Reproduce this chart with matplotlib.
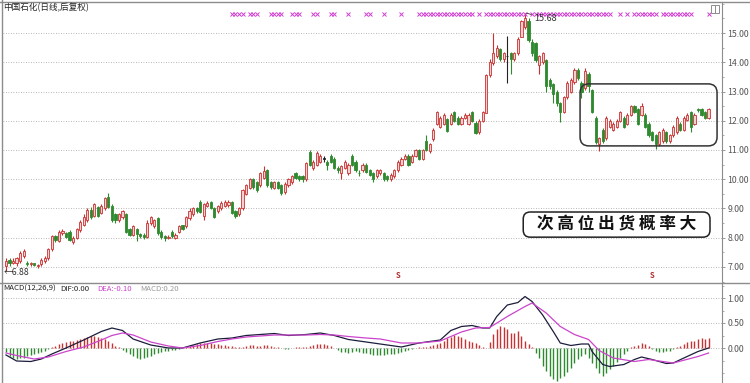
import matplotlib
matplotlib.use("Agg")
import matplotlib.pyplot as plt
from matplotlib.patches import FancyBboxPatch, Rectangle
from matplotlib.lines import Line2D
from matplotlib.ticker import MultipleLocator
import matplotlib.transforms as mtransforms

plt.rcParams['font.family'] = ['Noto Sans CJK SC', 'DejaVu Sans']

# daily candles
opens = [7.05, 7.25, 7.15, 7.12, 7.2, 7.38, 7.15, 7.1, 7.12, 7.02,
         7.1, 7.2, 7.3, 7.6, 8.05, 7.9, 8.15, 8.15, 8.2, 7.85,
         8.0, 8.25, 8.45, 8.6, 8.95, 8.75, 9.05, 8.85, 9.0, 9.4,
         9.1, 8.8, 8.6, 8.7, 8.8, 8.3, 8.1, 8.3, 8.12, 8.1,
         8.03, 8.5, 8.4, 8.67, 8.2, 8.05, 8.0, 8.2, 8.0, 8.2,
         8.42, 8.4, 8.67, 8.8, 9.0, 9.22, 8.75, 9.1, 9.22, 9.02,
         8.9, 9.0, 9.1, 9.12, 9.22, 8.9, 8.8, 9.0, 9.5, 9.7,
         10.0, 9.9, 9.8, 10.05, 10.3, 9.9, 9.7, 9.9, 9.8, 9.55,
         9.8, 9.9, 10.2, 10.1, 10.1, 10.0, 10.93, 10.4, 10.5, 10.6,
         10.7, 10.6, 10.8, 10.7, 10.4, 10.2, 10.4, 10.2, 10.8, 10.6,
         10.22, 10.3, 10.5, 10.3, 10.2, 10.1, 10.2, 10.2, 10.1, 10.0,
         10.1, 10.3, 10.5, 10.7, 10.8, 10.6, 10.8, 11.0, 10.7, 11.3,
         10.95, 11.36, 11.88, 11.8, 11.9, 12.05, 11.9, 12.3, 12.1, 11.9,
         12.1, 11.9, 12.3, 11.94, 11.6, 12.0, 12.28, 13.56, 13.96, 14.2,
         14.45, 14.1, 14.2, 14.3, 14.1, 14.3, 14.88, 15.2, 15.4, 14.7,
         14.65, 13.9, 14.0, 14.07, 13.4, 13.27, 13.0, 12.6, 12.3, 12.8,
         13.0, 13.32, 13.74, 13.3, 13.11, 13.6, 13.05, 12.09, 11.2, 11.7,
         11.4, 11.8, 11.7, 11.8, 12.0, 12.1, 11.9, 12.2, 12.5, 12.4,
         12.2, 12.2, 11.9, 11.6, 11.5, 11.2, 11.3, 11.6, 11.3, 11.5,
         11.6, 11.9, 11.7, 12.03, 12.3, 11.9, 12.4, 12.4, 12.3, 12.1]
closes = [7.2, 7.12, 7.2, 7.3, 7.48, 7.55, 7.1, 7.12, 7.08, 7.06,
          7.25, 7.32, 7.6, 8.05, 7.92, 8.2, 8.22, 8.02, 7.92, 8.0,
          8.3, 8.55, 8.7, 8.95, 8.7, 9.15, 8.75, 9.1, 9.35, 9.05,
          8.6, 8.6, 8.8, 8.9, 8.2, 8.1, 8.4, 8.12, 8.05, 8.02,
          8.5, 8.7, 8.6, 8.16, 8.02, 8.0, 8.02, 8.05, 8.1, 8.4,
          8.3, 8.7, 8.93, 9.0, 8.9, 8.88, 9.15, 9.2, 9.02, 8.72,
          9.08, 9.2, 9.22, 9.22, 8.85, 8.75, 9.0, 9.62, 9.8, 10.0,
          9.72, 9.62, 10.2, 10.28, 9.8, 9.72, 9.9, 9.7, 9.52, 9.85,
          10.0, 10.1, 10.05, 10.0, 10.0, 10.55, 10.5, 10.6, 10.9, 10.8,
          10.7, 10.5, 10.6, 10.4, 10.3, 10.45, 10.6, 10.5, 10.5, 10.3,
          10.2, 10.5, 10.25, 10.15, 10.0, 10.3, 10.3, 10.0, 10.0, 10.15,
          10.3, 10.6, 10.7, 10.8, 10.5, 10.8, 11.0, 10.7, 11.0, 11.0,
          11.2, 11.7, 12.3, 12.1, 12.2, 11.65, 12.2, 12.0, 11.9, 12.1,
          12.2, 12.2, 12.0, 11.59, 12.0, 12.3, 13.55, 14.02, 14.3, 14.5,
          14.1, 14.3, 14.2, 14.1, 14.3, 14.8, 15.4, 15.5, 14.75, 14.3,
          14.07, 14.2, 14.3, 13.2, 13.2, 12.92, 12.6, 12.3, 12.8, 13.3,
          13.4, 13.73, 13.46, 13.0, 13.69, 13.2, 12.31, 11.29, 11.4, 11.3,
          12.09, 12.0, 11.9, 12.0, 12.3, 11.8, 12.2, 12.5, 12.3, 11.9,
          12.5, 11.8, 11.5, 11.35, 11.2, 11.6, 11.7, 11.3, 11.5, 11.8,
          12.1, 11.7, 12.1, 12.2, 11.8, 12.2, 12.38, 12.2, 12.1, 12.4]
highs = [7.3, 7.3, 7.3, 7.35, 7.55, 7.6, 7.2, 7.18, 7.15, 7.1,
         7.3, 7.38, 7.65, 8.1, 8.1, 8.25, 8.3, 8.2, 8.25, 8.05,
         8.35, 8.6, 8.8, 9.0, 9.05, 9.2, 9.1, 9.15, 9.4, 9.53,
         9.15, 8.85, 8.85, 8.95, 8.85, 8.35, 8.45, 8.35, 8.15, 8.15,
         8.6, 8.75, 8.65, 8.7, 8.25, 8.1, 8.1, 8.25, 8.15, 8.45,
         8.45, 8.75, 9.0, 9.05, 9.05, 9.3, 9.2, 9.25, 9.25, 9.05,
         9.12, 9.25, 9.28, 9.28, 9.25, 8.95, 9.05, 9.65, 9.85, 10.05,
         10.05, 9.95, 10.25, 10.45, 10.35, 9.95, 9.95, 9.95, 9.85, 9.9,
         10.05, 10.15, 10.25, 10.15, 10.15, 10.6, 11.0, 10.65, 10.95, 10.85,
         10.8, 10.65, 10.85, 10.75, 10.45, 10.5, 10.65, 10.55, 10.85, 10.65,
         10.3, 10.55, 10.55, 10.35, 10.25, 10.35, 10.35, 10.25, 10.15, 10.2,
         10.35, 10.65, 10.75, 10.85, 10.85, 10.85, 11.05, 11.05, 11.05, 11.5,
         11.25, 11.75, 12.35, 12.15, 12.25, 12.1, 12.25, 12.35, 12.15, 12.15,
         12.25, 12.25, 12.35, 12.0, 12.05, 12.35, 13.6, 14.1, 15.0, 14.6,
         14.5, 14.35, 14.9, 14.35, 14.35, 14.85, 15.46, 15.68, 15.5, 14.8,
         14.7, 14.25, 14.35, 14.1, 13.45, 13.3, 13.05, 12.65, 12.85, 13.35,
         13.45, 13.8, 13.8, 13.35, 13.8, 13.65, 13.1, 12.15, 11.45, 11.75,
         12.15, 12.05, 11.95, 12.05, 12.35, 12.15, 12.25, 12.55, 12.55, 12.45,
         12.6, 12.25, 11.95, 11.65, 11.55, 11.65, 11.75, 11.65, 11.55, 11.85,
         12.15, 11.95, 12.15, 12.25, 12.35, 12.25, 12.45, 12.45, 12.35, 12.45]
lows = [6.88, 7.05, 7.1, 7.05, 7.15, 7.3, 7.05, 7.05, 7.02, 6.98,
        7.05, 7.15, 7.25, 7.55, 7.85, 7.85, 8.1, 7.98, 7.88, 7.8,
        7.95, 8.2, 8.4, 8.55, 8.65, 8.7, 8.7, 8.8, 8.95, 9.0,
        8.55, 8.5, 8.55, 8.65, 8.15, 8.05, 8.05, 7.9, 8.0, 7.95,
        8.0, 8.45, 8.35, 8.1, 7.95, 7.9, 7.95, 8.0, 7.95, 8.15,
        8.25, 8.35, 8.6, 8.75, 8.85, 8.85, 8.6, 9.05, 8.98, 8.68,
        8.85, 8.95, 9.05, 9.05, 8.8, 8.68, 8.75, 8.95, 9.45, 9.65,
        9.65, 9.55, 9.75, 10.0, 9.75, 9.65, 9.65, 9.65, 9.45, 9.5,
        9.75, 9.85, 10.0, 9.95, 9.9, 9.95, 10.45, 10.3, 10.45, 10.55,
        10.6, 10.3, 10.55, 10.35, 10.2, 10.0, 10.35, 10.15, 10.45, 10.25,
        10.1, 10.25, 10.2, 10.1, 9.9, 10.05, 10.15, 9.95, 9.95, 9.95,
        10.05, 10.25, 10.45, 10.65, 10.45, 10.55, 10.75, 10.65, 10.65, 10.95,
        10.9, 11.3, 11.85, 11.75, 11.85, 11.6, 11.85, 11.95, 11.85, 11.85,
        12.05, 11.85, 11.95, 11.55, 11.55, 11.95, 12.25, 13.5, 13.9, 14.15,
        14.05, 14.0, 13.3, 13.6, 14.05, 14.25, 14.85, 15.15, 14.7, 14.2,
        14.0, 13.6, 13.95, 13.0, 13.1, 12.6, 12.5, 11.95, 12.25, 12.75,
        12.95, 13.25, 13.4, 12.77, 13.05, 13.0, 12.25, 11.2, 10.95, 11.25,
        11.35, 11.75, 11.65, 11.75, 11.95, 11.75, 11.85, 12.15, 12.25, 11.85,
        12.15, 11.75, 11.45, 11.3, 11.05, 11.15, 11.25, 11.25, 11.25, 11.45,
        11.55, 11.65, 11.65, 12.0, 11.6, 11.85, 12.3, 12.15, 12.05, 12.05]

# MACD(12,26,9) bars, one per day
macd_bar = [-0.08, -0.15, -0.2, -0.22, -0.2, -0.2, -0.16, -0.14, -0.12, -0.1,
            -0.08, -0.05, -0.02, 0.02, 0.05, 0.08, 0.1, 0.13, 0.14, 0.15,
            0.16, 0.18, 0.2, 0.22, 0.25, 0.24, 0.22, 0.2, 0.18, 0.15,
            0.1, 0.05, 0.02, -0.03, -0.08, -0.12, -0.16, -0.2, -0.22, -0.2,
            -0.18, -0.15, -0.12, -0.1, -0.08, -0.06, -0.05, -0.04, -0.03, -0.02,
            0.0, 0.02, 0.04, 0.06, 0.08, 0.1, 0.1, 0.1, 0.1, 0.08,
            0.08, 0.06, 0.06, 0.05, 0.04, 0.03, 0.02, 0.02, 0.05, 0.06,
            0.06, 0.05, 0.05, 0.06, 0.07, 0.05, 0.03, 0.02, 0.0, -0.02,
            -0.02, 0.0, 0.02, 0.03, 0.02, 0.02, 0.05, 0.07, 0.08, 0.09,
            0.08, 0.06, 0.04, 0.0, -0.04, -0.07, -0.08, -0.09, -0.08, -0.06,
            -0.08, -0.1, -0.1, -0.12, -0.13, -0.13, -0.14, -0.13, -0.12, -0.12,
            -0.11, -0.1, -0.08, -0.05, -0.03, -0.02, 0.0, 0.02, 0.03, 0.03,
            0.05, 0.06, 0.08, 0.1, 0.15, 0.2, 0.23, 0.26, 0.25, 0.22,
            0.18, 0.15, 0.12, 0.1, 0.06, 0.02, 0.0, 0.12, 0.28, 0.38,
            0.45, 0.42, 0.38, 0.3, 0.3, 0.35, 0.25, 0.15, 0.08, 0.02,
            -0.1, -0.2, -0.35, -0.45, -0.55, -0.62, -0.65, -0.6, -0.55, -0.48,
            -0.4, -0.3, -0.22, -0.15, -0.12, -0.2, -0.3, -0.4, -0.5, -0.55,
            -0.5, -0.42, -0.35, -0.28, -0.2, -0.12, -0.05, 0.02, 0.05, 0.07,
            0.1, 0.08, 0.04, -0.02, -0.05, -0.07, -0.08, -0.06, -0.05, -0.02,
            0.02, 0.05, 0.08, 0.12, 0.15, 0.15, 0.18, 0.2, 0.18, 0.2]

# DIF / DEA read at these day indices
dif_day = [0, 3, 7, 10, 13, 17, 22, 27, 30, 33, 36, 41, 46, 50, 55, 60, 64, 68, 72, 76,
           80, 85, 89, 93, 97, 102, 106, 112, 117, 123, 126, 129, 132, 135, 137, 139, 142, 145, 147, 149,
           152, 155, 157, 160, 163, 165, 166, 169, 171, 175, 178, 180, 183, 187, 189, 192, 196, 199]
dif_val = [-0.14, -0.26, -0.27, -0.22, -0.12, 0.0, 0.16, 0.33, 0.4, 0.35, 0.18, 0.06, 0.0, 0.0, 0.1, 0.18, 0.2, 0.25, 0.27, 0.29,
           0.25, 0.27, 0.3, 0.25, 0.17, 0.12, 0.08, 0.02, 0.1, 0.16, 0.35, 0.43, 0.45, 0.4, 0.4, 0.63, 0.86, 0.91, 1.03, 0.93,
           0.66, 0.33, 0.1, 0.05, 0.08, 0.08, -0.07, -0.33, -0.37, -0.33, -0.23, -0.18, -0.23, -0.31, -0.3, -0.2, -0.07, 0.0]
dea_day = [0, 3, 8, 12, 17, 22, 27, 30, 33, 36, 41, 46, 50, 55, 60, 64, 68, 72, 76, 80,
           85, 89, 93, 97, 102, 106, 112, 117, 123, 129, 133, 137, 142, 147, 149, 153, 157, 161, 165, 168,
           172, 178, 182, 187, 189, 196, 199]
dea_val = [-0.1, -0.15, -0.22, -0.18, -0.07, 0.02, 0.16, 0.25, 0.3, 0.26, 0.12, 0.04, 0.0, 0.05, 0.13, 0.18, 0.22, 0.24, 0.26, 0.26,
           0.26, 0.27, 0.26, 0.23, 0.2, 0.18, 0.1, 0.1, 0.14, 0.32, 0.4, 0.41, 0.63, 0.83, 0.9, 0.7, 0.43, 0.27, 0.17, -0.05,
           -0.2, -0.27, -0.23, -0.28, -0.3, -0.17, -0.1]

# signal days (magenta x row) and sell marks
signal_days = ([64, 65, 66, 67, 69, 70, 71, 75, 76, 77, 78, 81, 82, 83, 87, 88, 92, 93, 97,
                102, 103, 107, 112] + list(range(117, 133)) + [134, 136] + list(range(137, 148))
               + list(range(149, 172)) + [174, 176] + list(range(178, 185)) + list(range(186, 195)) + [199])
sell_days = [111, 183]

price_ticks = [7, 8, 9, 10, 11, 12, 13, 14, 15]
macd_ticks = [0.0, 0.5, 1.0]

W, H = 750, 383
RED, RED_FILL, GREEN = '#c83232', '#f3cfcf', '#2f8a2f'


def fx(px):
    return px / W


def fy(py):
    return 1 - py / H


fig = plt.figure(figsize=(7.5, 3.83), dpi=100)
ax = fig.add_axes([fx(3), fy(282), (722 - 3) / W, (282 - 2) / H])
am = fig.add_axes([fx(3), fy(383), (722 - 3) / W, (383 - 283) / H])

days = list(range(len(closes)))
wick_cols, face_cols, edge_cols, heights, bottoms = [], [], [], [], []
for o, c in zip(opens, closes):
    if c > o:
        col, face = RED, RED_FILL
    elif c < o:
        col, face = GREEN, GREEN
    else:
        col, face = '#222222', '#222222'
    wick_cols.append(col)
    edge_cols.append(col)
    face_cols.append(face)
    heights.append(max(abs(c - o), 0.02))
    bottoms.append(min(o, c))

ax.vlines(days, lows, highs, colors=wick_cols, lw=0.8, zorder=2)
ax.bar(days, heights, bottom=bottoms, width=0.62, color=face_cols,
       edgecolor=edge_cols, linewidth=0.6, zorder=3)

ax.set_xlim(-0.85, 202.8)
ax.set_ylim(6.487, 16.06)
am.set_xlim(-0.85, 202.8)
am.set_ylim(-0.70, 1.30)

for a, ticks in ((ax, price_ticks), (am, macd_ticks)):
    a.yaxis.tick_right()
    a.set_yticks(ticks)
    a.set_yticklabels([f"{t:.2f}" for t in ticks])
    a.set_xticks([])
    for s in ('left', 'top', 'bottom'):
        a.spines[s].set_visible(False)
    a.spines['right'].set_color('#8c8c8c')
    a.spines['right'].set_linewidth(0.8)
    a.tick_params(axis='y', which='major', colors='#8c8c8c', labelcolor='#555555',
                  labelsize=6.3, length=2.5, width=0.6, pad=1.5)
    a.tick_params(axis='y', which='minor', colors='#8c8c8c', length=1.5, width=0.5)
    a.grid(axis='y', which='major', ls=(0, (1, 2)), color='#a0a0a0', lw=0.6)
    a.set_axisbelow(True)
ax.yaxis.set_minor_locator(MultipleLocator(0.5))
am.yaxis.set_minor_locator(MultipleLocator(0.25))

# signal row and sell marks
trans = mtransforms.blended_transform_factory(ax.transData, ax.transAxes)
ax.plot(signal_days, [0.957] * len(signal_days), ls='none', marker='x', ms=2.4,
        mew=0.7, color='#d040d0', transform=trans, clip_on=False)
for d in sell_days:
    ax.text(d, 0.025, 'S', transform=trans, ha='center', va='center',
            fontsize=5.5, color='#b03030', fontweight='bold')

# high / low labels
ax.annotate('15.68', xy=(147.4, 15.68), xytext=(149.6, 15.5), fontsize=6.5,
            color='#333333', va='center',
            arrowprops=dict(arrowstyle='-', lw=0.6, color='#333333', shrinkA=0, shrinkB=0))
ax.text(-0.6, 6.81, '←6.88', fontsize=6.3, color='#333333', va='center', ha='left')

# rounded frame around the second high
aspect = 3.53 / 29.25
ax.add_patch(FancyBboxPatch((162.6, 11.14), 38.8, 2.12,
                            boxstyle='round,pad=0,rounding_size=2.5',
                            mutation_aspect=aspect, fill=False,
                            ec='#333333', lw=1.1, zorder=4))
ax.add_patch(FancyBboxPatch((146.5, 8.02), 52.9, 0.86,
                            boxstyle='round,pad=0,rounding_size=2.0',
                            mutation_aspect=aspect, fc='white',
                            ec='#222222', lw=1.1, zorder=4))
ax.text(173.0, 8.45, '次 高 位 出 货 概 率 大', ha='center', va='center',
        fontsize=12, fontweight='bold', color='#111111', zorder=5)

# MACD panel
am.vlines(days, 0, macd_bar, colors=[RED if v > 0 else GREEN for v in macd_bar], lw=1.0)
am.plot(dif_day, dif_val, color='#1c1c3c', lw=0.9)
am.plot(dea_day, dea_val, color='#cc44cc', lw=0.9)

# headers
fig.text(fx(3), fy(8), '中国石化(日线,后复权)', fontsize=6.2, color='#222222', va='center')
for px, s, col in ((3, 'MACD(12,26,9)', '#222222'), (60, 'DIF:0.00', '#222222'),
                   (97, 'DEA:-0.10', '#cc44cc'), (140, 'MACD:0.20', '#999999')):
    fig.text(fx(px), fy(289), s, fontsize=5.6, color=col, va='center')

# frame lines
fig.add_artist(Line2D([0, 1], [fy(1.5), fy(1.5)], color='#8c8c8c', lw=1.0))
fig.add_artist(Line2D([fx(1.5), fx(1.5)], [0, 1], color='#8c8c8c', lw=1.0))
fig.add_artist(Line2D([0, 1], [fy(282.5), fy(282.5)], color='#8c8c8c', lw=1.0))
fig.add_artist(Rectangle((fx(711), fy(13)), 8 / W, 8 / H, transform=fig.transFigure,
                         fill=False, ec='#8c8c8c', lw=0.7))
fig.add_artist(Line2D([fx(714.5), fx(714.5)], [fy(12), fy(6)], color='#8c8c8c', lw=0.7))

fig.savefig('out.png', dpi=100, facecolor='white')
